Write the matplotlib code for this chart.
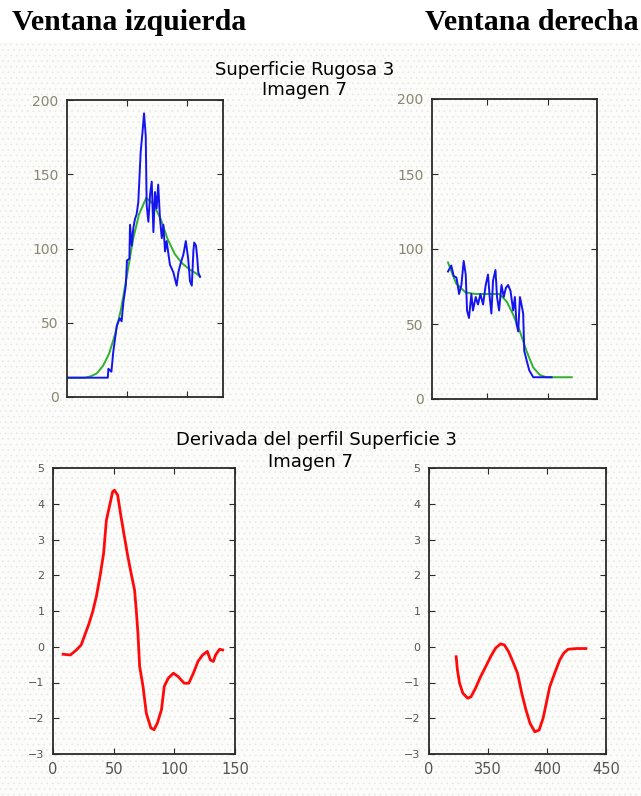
import matplotlib
matplotlib.use('Agg')
import matplotlib.pyplot as plt
from matplotlib.patches import Rectangle

# perfil ventana izquierda (Superficie Rugosa 3, Imagen 7)
left_x = [0, 34, 34.5, 37, 38.5, 41.5, 44, 45.5, 47, 49,
          50, 52, 52.5, 54, 55.3, 56.7, 58, 59.4, 61.4, 63,
          64.2, 65.6, 66.4, 67.8, 69.2, 70.6, 72, 73.3, 74.7, 76,
          77.5, 79, 80.3, 81.7, 83, 85.8, 88.6, 91.4, 92.8, 94.7,
          97, 99, 101, 102.5, 104, 105.3, 106, 107.5, 108.6, 109.4,
          110.8]
left_y = [13, 13, 19, 17, 30, 48, 53, 51, 64, 75,
          92, 93, 116, 102, 114, 120, 123, 131, 165, 179,
          191, 176, 129, 118, 136, 145, 111, 138, 127, 143,
          120, 107, 116, 98, 105, 89, 84, 75, 84, 90,
          96, 105, 93, 78, 75, 98, 104, 102, 93, 84,
          81]
left_fit_x = [0, 15, 20, 25, 30, 35, 40, 45, 50, 55, 60, 66, 72, 78, 84, 90, 96, 102, 108, 111]
left_fit_y = [13, 13, 14, 16, 21, 29, 42, 59, 82, 106, 123, 134, 130, 120, 106, 96, 90, 86, 83, 81]

# perfil ventana derecha
right_x = [317.3, 320, 322, 324.3, 326.5, 328.4, 330.3, 332, 333.1, 334.7,
           336.7, 338, 340.3, 342.2, 344.2, 346.4, 348.6, 350.5, 351.9, 353.3,
           354.7, 356.7, 358, 359.7, 361.7, 363.6, 365.3, 367.2, 369.2, 371.4,
           372.8, 374.2, 375.6, 377, 378.3, 379.7, 380.6, 382.5, 384.8, 388.1,
           403.3]
right_y = [85, 89, 82, 81, 70, 76, 92, 83, 59, 54,
           70, 59, 68, 63, 70, 63, 76, 83, 68, 57,
           79, 86, 68, 59, 76, 68, 74, 76, 72, 59,
           68, 50, 45, 68, 63, 57, 32, 26, 19, 14.5,
           14.5]
right_fit_x = [317.3, 324, 332, 340, 350, 360, 366, 371, 377, 382.5, 388, 393.6, 399, 410, 420]
right_fit_y = [91, 77, 71, 70, 70, 70, 65, 57, 45, 32, 21, 16, 14.5, 14.5, 14.5]

# derivada del perfil
dleft_x = [8.3, 14.3, 19.3, 23.2, 26.8, 29.8, 32.7, 35.7, 38.7, 41.7,
           44, 47, 49.1, 50.6, 53.3, 56.1, 58.9, 61.7, 64.4, 67.2,
           68.6, 70, 71.4, 74.2, 76.9, 80.6, 83.3, 86.1, 89.4, 91.7,
           95, 99.2, 103, 108.1, 111.9, 115.7, 119.5, 123.3, 127.2, 129.7,
           132.2, 134, 137.3, 139.8]
dleft_y = [-0.21, -0.23, -0.09, 0.05, 0.38, 0.66, 0.98, 1.4, 1.96, 2.61,
           3.54, 4.0, 4.33, 4.38, 4.24, 3.63, 3.07, 2.52, 2.05, 1.59,
           1.03, 0.38, -0.55, -1.11, -1.86, -2.27, -2.32, -2.13, -1.76, -1.11,
           -0.88, -0.74, -0.83, -1.02, -1.02, -0.74, -0.41, -0.23, -0.13, -0.37,
           -0.41, -0.23, -0.07, -0.09]
dright_x = [323, 324.1, 325.9, 328.7, 332.8, 335.6, 339.4, 343.7, 348, 352.2,
            356.4, 360.6, 363.9, 367.5, 371.1, 375, 378.6, 382.2, 385.6, 389.7,
            393.3, 396.7, 399.4, 402.3, 406.5, 410.8, 414.2, 417.9, 425, 433]
dright_y = [-0.28, -0.65, -1.02, -1.30, -1.44, -1.40, -1.16, -0.84, -0.56, -0.28,
            -0.04, 0.08, 0.05, -0.14, -0.42, -0.74, -1.30, -1.77, -2.14, -2.38,
            -2.33, -2.0, -1.58, -1.12, -0.74, -0.37, -0.18, -0.07, -0.05, -0.05]

profile_yticks = [0, 50, 100, 150, 200]
deriv_yticks = [-3, -2, -1, 0, 1, 2, 3, 4, 5]
dleft_xticks = [0, 50, 100, 150]
dright_xticks = [300, 350, 400, 450]
dright_xticklabels = ['0', '350', '400', '450']

blue = '#1414f0'
green = '#2fb02f'
red = '#ff0a0a'
spine_color = '#2a2a2a'


def style_axis(axis, label_color):
    axis.set_facecolor('none')
    for sp in axis.spines.values():
        sp.set_color(spine_color)
        sp.set_linewidth(1.3)
    axis.tick_params(direction='in', length=4, width=0.8, top=True, right=True,
                     colors=spine_color, labelcolor=label_color, pad=6)


def main():

    plt.rcParams['hatch.linewidth'] = 0.6
    fig = plt.figure(figsize=(6.41, 7.96), dpi=100)
    fig.patch.set_facecolor('white')
    # fondo punteado gris muy claro
    fig.add_artist(Rectangle((0, 0), 1, (796 - 42) / 796., transform=fig.transFigure,
                             facecolor='#fcfcfa', edgecolor='#ebebe4', hatch='...',
                             linewidth=0, zorder=-1))

    fig.text(12 / 641., 1 - 30 / 796., 'Ventana izquierda', family='Liberation Serif',
             weight='bold', fontsize=21.5, ha='left', va='baseline')
    fig.text(425 / 641., 1 - 30 / 796., 'Ventana derecha', family='Liberation Serif',
             weight='bold', fontsize=21.5, ha='left', va='baseline')

    fig.text(305 / 641., 1 - 75 / 796., 'Superficie Rugosa 3', fontsize=13,
             ha='center', va='baseline')
    fig.text(304 / 641., 1 - 95 / 796., 'Imagen 7', fontsize=13, ha='center', va='baseline')
    fig.text(316 / 641., 1 - 445 / 796., 'Derivada del perfil Superficie 3', fontsize=13,
             ha='center', va='baseline')
    fig.text(310 / 641., 1 - 467 / 796., 'Imagen 7', fontsize=13, ha='center', va='baseline')

    ax1 = fig.add_axes([67 / 641., 1 - 397 / 796., 156 / 641., 297 / 796.])
    ax1.plot(left_fit_x, left_fit_y, color=green, lw=1.4)
    ax1.plot(left_x, left_y, color=blue, lw=1.4)
    ax1.set_xlim(0, 130)
    ax1.set_ylim(0, 200)
    ax1.set_xticks([50, 100])
    ax1.set_xticklabels([])
    ax1.set_yticks(profile_yticks)
    style_axis(ax1, '#8a8672')
    ax1.tick_params(labelsize=10)

    ax2 = fig.add_axes([432 / 641., 1 - 399 / 796., 165 / 641., 300 / 796.])
    ax2.plot(right_fit_x, right_fit_y, color=green, lw=1.4)
    ax2.plot(right_x, right_y, color=blue, lw=1.4)
    ax2.set_xlim(304, 441)
    ax2.set_ylim(0, 200)
    ax2.set_xticks([350, 400])
    ax2.set_xticklabels([])
    ax2.set_yticks(profile_yticks)
    style_axis(ax2, '#8a8672')
    ax2.tick_params(labelsize=10)

    ax3 = fig.add_axes([53 / 641., 1 - 754 / 796., 182 / 641., 286 / 796.])
    ax3.plot(dleft_x, dleft_y, color=red, lw=2)
    ax3.set_xlim(0, 150)
    ax3.set_ylim(-3, 5)
    ax3.set_xticks(dleft_xticks)
    ax3.set_yticks(deriv_yticks)
    style_axis(ax3, '#555555')
    ax3.tick_params(axis='x', labelsize=10.5)
    ax3.tick_params(axis='y', labelsize=8)

    ax4 = fig.add_axes([429 / 641., 1 - 754 / 796., 177 / 641., 286 / 796.])
    ax4.plot(dright_x, dright_y, color=red, lw=2)
    ax4.set_xlim(300, 450)
    ax4.set_ylim(-3, 5)
    ax4.set_xticks(dright_xticks)
    ax4.set_xticklabels(dright_xticklabels)
    ax4.set_yticks(deriv_yticks)
    style_axis(ax4, '#555555')
    ax4.tick_params(axis='x', labelsize=10.5)
    ax4.tick_params(axis='y', labelsize=8)

    fig.savefig('out.png', dpi=100)
    return


if __name__ == "__main__":
    main()
